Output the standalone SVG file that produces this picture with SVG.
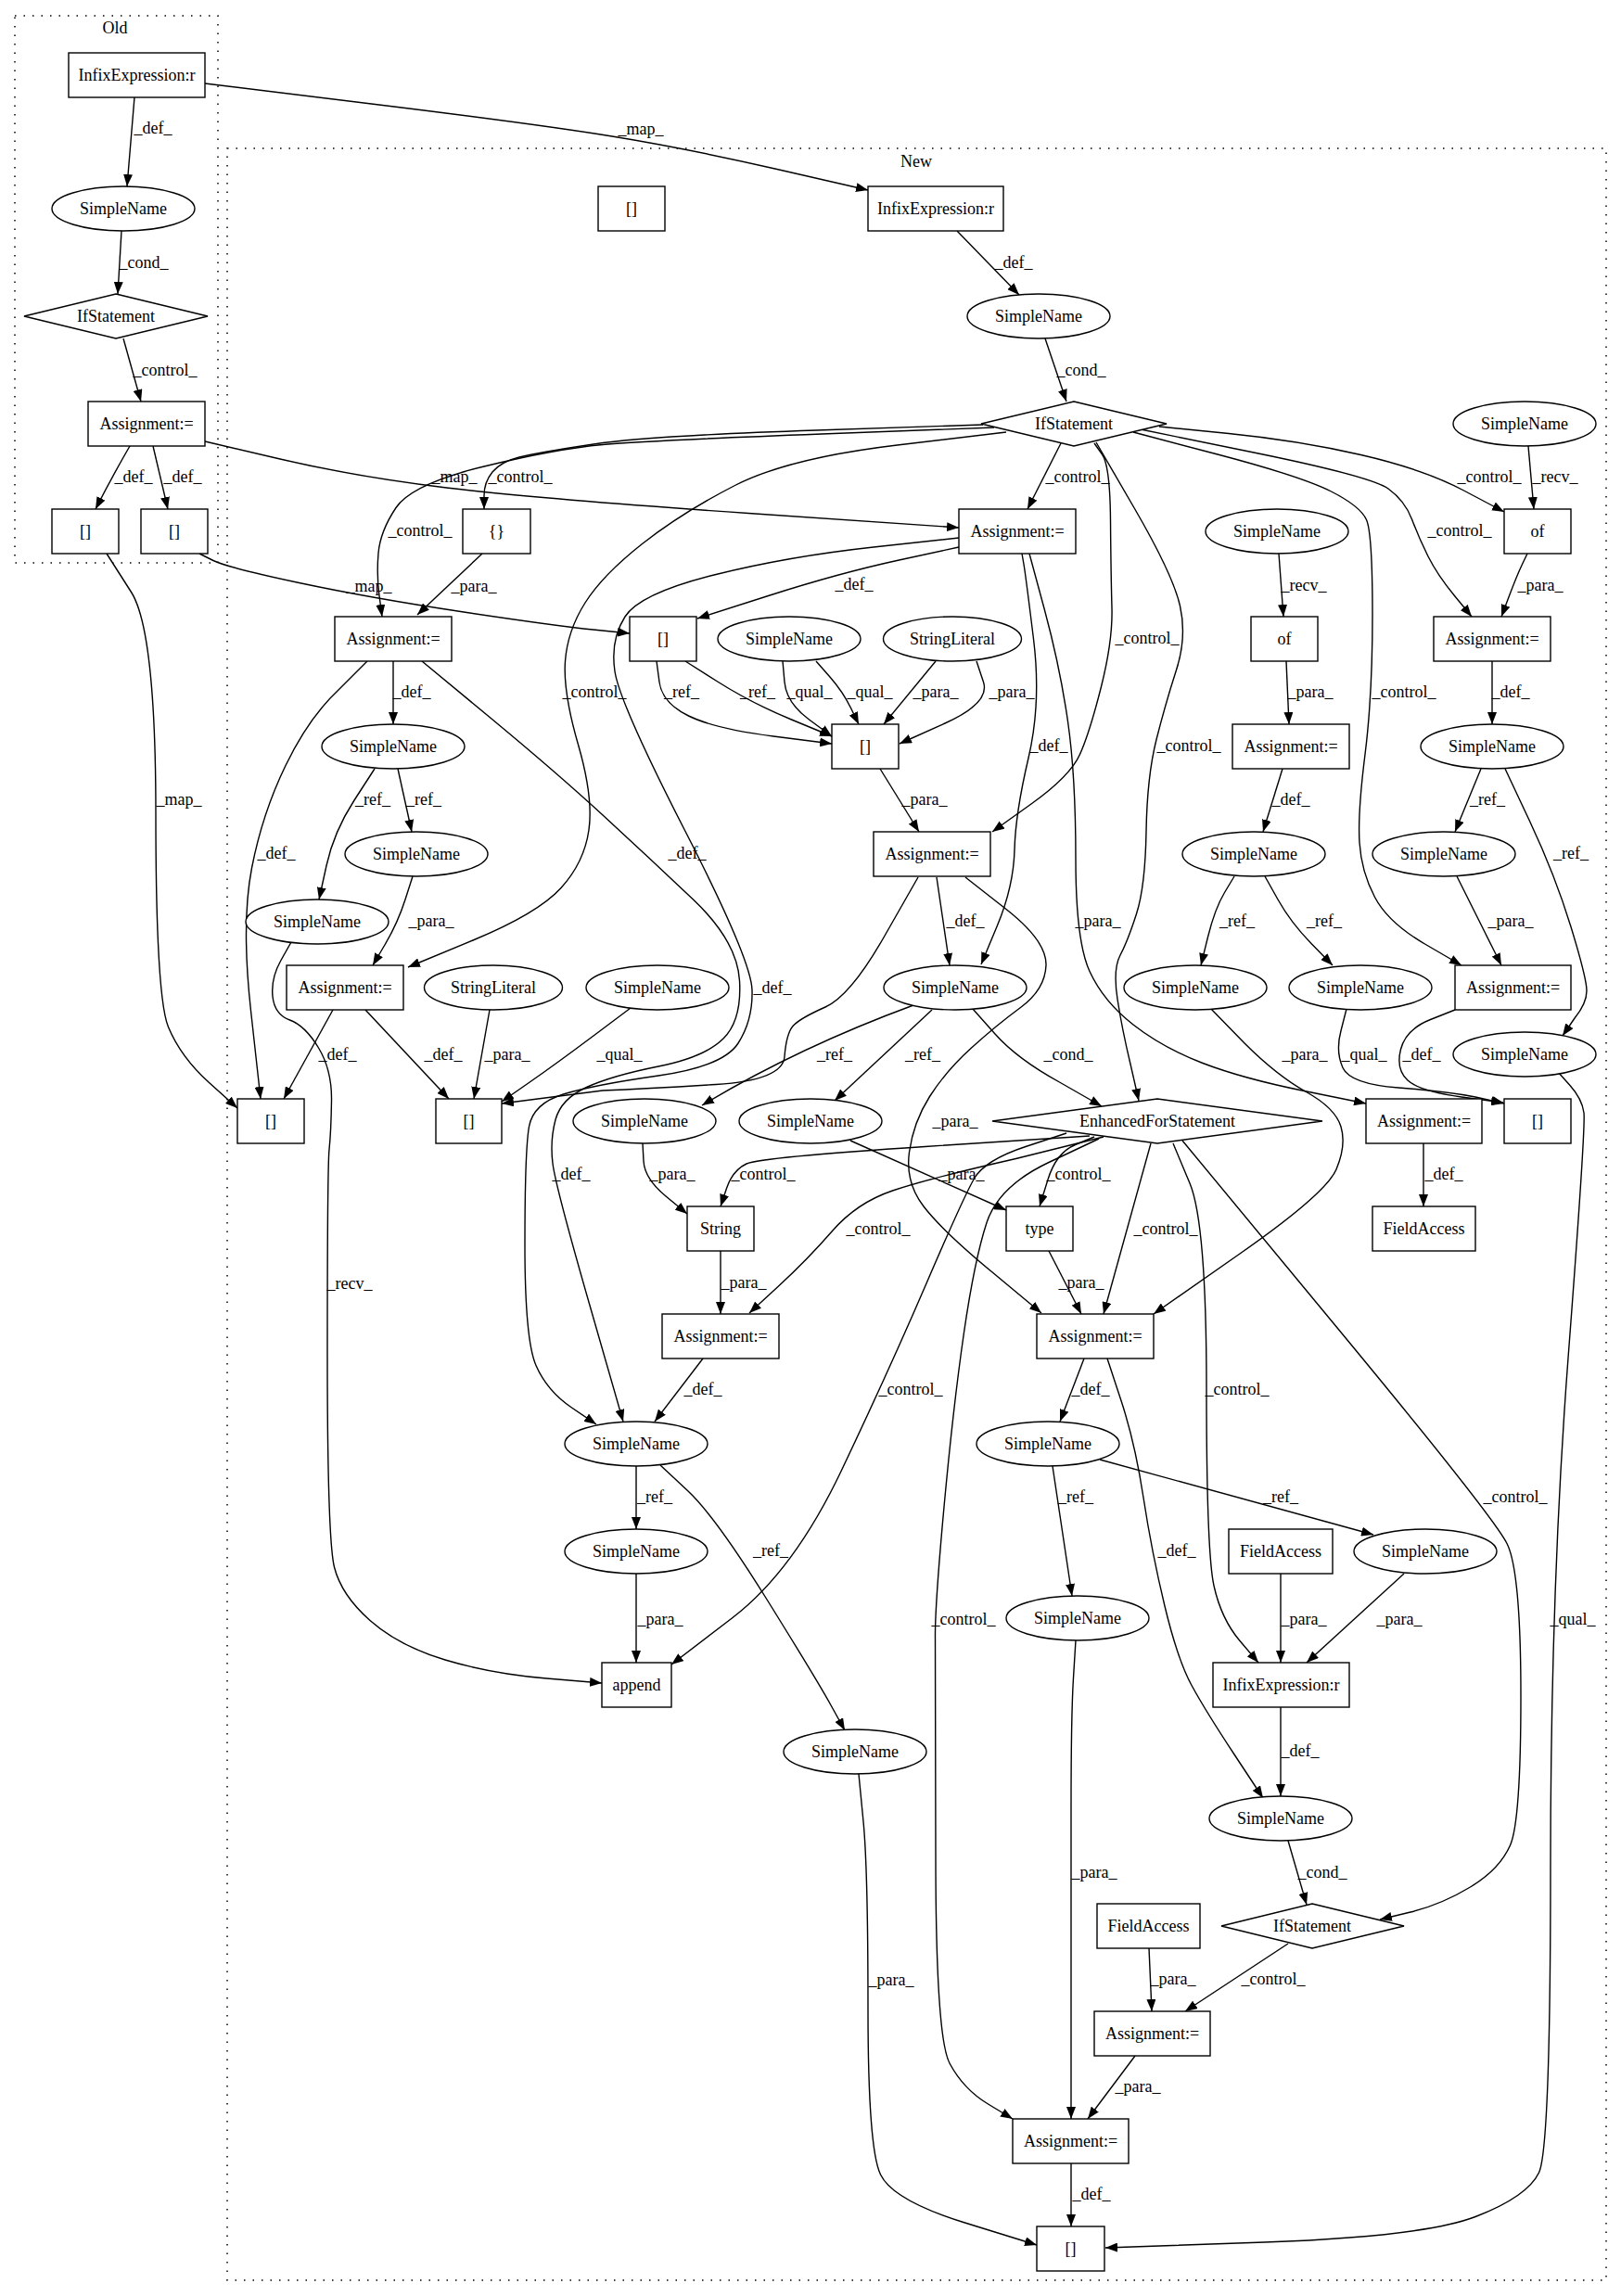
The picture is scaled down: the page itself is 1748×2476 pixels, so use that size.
<svg xmlns="http://www.w3.org/2000/svg" width="1748" height="2476" viewBox="0 0 1748 2476">
<defs>
<marker id="arr" viewBox="0 0 13 10" refX="13" refY="5" markerWidth="13" markerHeight="10" markerUnits="userSpaceOnUse" orient="auto"><path d="M0,0 L13,5 L0,10 z" fill="#000"/></marker>
<style>
text{font-family:"Liberation Serif","Times New Roman",serif;font-size:18px;fill:#000;text-anchor:middle}
.node rect,.node ellipse,.node polygon{fill:#fff;stroke:#000;stroke-width:1.4}
.cluster{fill:none;stroke:#000;stroke-width:1.5;stroke-dasharray:1.5,8}
.edge path{fill:none;stroke:#000;stroke-width:1.4;marker-end:url(#arr)}
</style>
</defs>
<rect width="1748" height="2476" fill="#fff"/>
<g id="clusters">
<rect class="cluster" x="16" y="17" width="219" height="590"/>
<text x="124" y="36">Old</text>
<rect class="cluster" x="245" y="160" width="1487" height="2299"/>
<text x="988" y="180">New</text>
</g>
<g id="connectors">
<g class="edge"><path d="M145,105 L137,201"/><text x="165" y="144">_def_</text></g>
<g class="edge"><path d="M131,249 L127,317"/><text x="155" y="289">_cond_</text></g>
<g class="edge"><path d="M133,365 L152,433"/><text x="178" y="405">_control_</text></g>
<g class="edge"><path d="M140,481 Q122,512 103,549"/><text x="144" y="520">_def_</text></g>
<g class="edge"><path d="M165,481 L181,549"/><text x="197" y="520">_def_</text></g>
<g class="edge"><path d="M221,90 L400.5,112 Q580,134 660,147 Q740,160 838,182.5 L936,205"/><text x="691" y="145">_map_</text></g>
<g class="edge"><path d="M221,476 L302,495 Q383,514 481.5,526 Q580,538 807,553.5 L1034,569"/><text x="490" y="520">_map_</text></g>
<g class="edge"><path d="M115,597 L141.5,638.5 Q168,680 168,877.5 Q168,1075 181.5,1107.5 Q195,1140 225.5,1167.5 L256,1195"/><text x="193" y="868">_map_</text></g>
<g class="edge"><path d="M215,597 L230,604.5 Q245,612 322.5,628.5 Q400,645 500,660 Q600,675 639.5,679 L679,683"/><text x="398" y="638">_map_</text></g>
<g class="edge"><path d="M1032,249 L1099,318"/><text x="1093" y="289">_def_</text></g>
<g class="edge"><path d="M1127,365 L1150,433"/><text x="1166" y="405">_cond_</text></g>
<g class="edge"><path d="M1144,478 L1108,549"/><text x="1162" y="520">_control_</text></g>
<g class="edge"><path d="M1060,458 L880,464 Q700,470 640,479 Q580,488 560,493 Q540,498 531,509 Q522,520 522,534.5 L522,549"/><text x="561" y="520">_control_</text></g>
<g class="edge"><path d="M1072,461 L886,468 Q700,475 650,479.5 Q600,484 522,503 Q444,522 427,547.5 Q410,573 408,596.5 Q406,620 409,642.5 L412,665"/><text x="453" y="578">_control_</text></g>
<g class="edge"><path d="M1085,466 L967.5,480 Q850,494 792.5,523.5 Q735,553 692.5,586.5 Q650,620 631,650 Q612,680 609.5,713 Q607,746 623.5,803 Q640,860 635,895 Q630,930 605,957.5 Q580,985 510,1014 L440,1043"/><text x="641" y="752">_control_</text></g>
<g class="edge"><path d="M1250,460 L1325,467.5 Q1400,475 1467.5,490.5 Q1535,506 1578.5,529 L1622,552"/><text x="1606" y="520">_control_</text></g>
<g class="edge"><path d="M1648,481 L1654,549"/><text x="1677" y="520">_recv_</text></g>
<g class="edge"><path d="M1230,463 L1354.5,488.5 Q1479,514 1497,527 Q1515,540 1522.5,560 Q1530,580 1540,600 Q1550,620 1568.5,642.5 L1587,665"/><text x="1574" y="578">_control_</text></g>
<g class="edge"><path d="M1222,466 L1313,490 Q1404,514 1435.5,530 Q1467,546 1473.5,560.5 Q1480,575 1480,662.5 Q1480,750 1472,813.5 Q1464,877 1466,908.5 Q1468,940 1482.5,967.5 Q1497,995 1536.5,1018 L1576,1041"/><text x="1514" y="752">_control_</text></g>
<g class="edge"><path d="M1182,477 L1223.5,548.5 Q1265,620 1272.5,653.5 Q1280,687 1268.5,722.5 Q1257,758 1247,797.5 Q1237,837 1236,896.5 Q1235,956 1225.5,985.5 Q1216,1015 1208,1030 Q1200,1045 1205,1077.5 Q1210,1110 1219,1147.5 L1228,1187"/><text x="1282" y="810">_control_</text></g>
<g class="edge"><path d="M1180,478 L1188.5,490 Q1197,502 1197.5,561 Q1198,620 1199,655.5 Q1200,691 1187.5,740.5 Q1175,790 1164.5,813.5 Q1154,837 1112,867 L1070,897"/><text x="1237" y="694">_control_</text></g>
<g class="edge"><path d="M520,597 L450,663"/><text x="511" y="638">_para_</text></g>
<g class="edge"><path d="M1034,590 L969.5,604 Q905,618 828.5,642.5 L752,667"/><text x="921" y="636">_def_</text></g>
<g class="edge"><path d="M1034,580 L942,590 Q850,600 770,620 Q690,640 674,665 Q658,690 663,724 Q668,758 739,896.5 Q810,1035 811,1067.5 Q812,1100 796,1125 Q780,1150 710,1160 Q640,1170 607.5,1180 Q575,1190 570.5,1215 Q566,1240 566,1342.5 Q566,1445 578,1472.5 Q590,1500 616.5,1518 L643,1536"/><text x="741" y="926">_def_</text></g>
<g class="edge"><path d="M455,713 L527.5,773 Q600,833 650,879 Q700,925 747.5,970 Q795,1015 797.5,1057.5 Q800,1100 780,1120 Q760,1140 710,1150 Q660,1160 632.5,1172.5 Q605,1185 599,1207.5 Q593,1230 596,1254.5 Q599,1279 635.5,1406 L672,1533"/><text x="616" y="1272">_def_</text></g>
<g class="edge"><path d="M990,946 L953.5,1010 Q917,1074 890,1086 Q863,1098 855.5,1106 Q848,1114 846,1139.5 Q844,1165 772,1169.5 Q700,1174 650,1176 L541,1190"/><text x="833" y="1071">_def_</text></g>
<g class="edge"><path d="M708,713 L711,735.5 Q714,758 742.5,772 Q771,786 834,794 L897,802"/><text x="735" y="752">_ref_</text></g>
<g class="edge"><path d="M739,713 L774.5,735.5 Q810,758 853.5,776 L897,794"/><text x="817" y="752">_ref_</text></g>
<g class="edge"><path d="M844,713 L846,735.5 Q848,758 872.5,776 L897,794"/><text x="873" y="752">_qual_</text></g>
<g class="edge"><path d="M880,713 L894.5,729.5 Q909,746 917.5,763.5 L926,781"/><text x="938" y="752">_qual_</text></g>
<g class="edge"><path d="M1009,713 L953,781"/><text x="1009" y="752">_para_</text></g>
<g class="edge"><path d="M1053,713 L1060.5,735.5 Q1068,758 1019,780 L970,802"/><text x="1091" y="752">_para_</text></g>
<g class="edge"><path d="M949,829 L991,897"/><text x="997" y="868">_para_</text></g>
<g class="edge"><path d="M1102,597 L1104,608.5 Q1106,620 1114.5,689 Q1123,758 1109,817.5 Q1095,877 1094,916.5 Q1093,956 1075.5,998 L1058,1040"/><text x="1131" y="810">_def_</text></g>
<g class="edge"><path d="M1110,597 L1126.5,658 Q1143,719 1151.5,778 Q1160,837 1160,926 Q1160,1015 1175,1047.5 Q1190,1080 1222,1105 Q1254,1130 1297,1146.5 Q1340,1163 1406.5,1176.5 L1473,1190"/><text x="1184" y="999">_para_</text></g>
<g class="edge"><path d="M424,713 L424,781"/><text x="444" y="752">_def_</text></g>
<g class="edge"><path d="M396,713 L364.5,744.5 Q333,774 308,825.5 Q283,877 271.5,936 Q260,995 270.5,1090 L281,1185"/><text x="298" y="926">_def_</text></g>
<g class="edge"><path d="M404,829 L382,863 Q360,897 352,933.5 L344,970"/><text x="402" y="868">_ref_</text></g>
<g class="edge"><path d="M429,829 L444,897"/><text x="457" y="868">_ref_</text></g>
<g class="edge"><path d="M445,945 L437,970 Q429,995 415.5,1018 L402,1041"/><text x="465" y="999">_para_</text></g>
<g class="edge"><path d="M359,1089 L306,1185"/><text x="364" y="1143">_def_</text></g>
<g class="edge"><path d="M394,1089 L484,1185"/><text x="478" y="1143">_def_</text></g>
<g class="edge"><path d="M528,1089 L511,1185"/><text x="547" y="1143">_para_</text></g>
<g class="edge"><path d="M680,1087 L640,1117 Q600,1147 570.5,1167.5 L541,1188"/><text x="668" y="1143">_qual_</text></g>
<g class="edge"><path d="M314,1016 L303,1035.5 Q292,1055 294,1074.5 Q296,1094 312.5,1100 Q329,1106 343.5,1130 Q358,1154 357.5,1187 Q357,1220 355,1239.5 Q353,1259 353,1459.5 Q353,1660 360.5,1690 Q368,1720 399,1747.5 Q430,1775 480,1790 Q530,1805 589.5,1810 L649,1815"/><text x="377" y="1390">_recv_</text></g>
<g class="edge"><path d="M1010,946 L1024,1041"/><text x="1041" y="999">_def_</text></g>
<g class="edge"><path d="M1041,946 L1085,980.5 Q1129,1015 1128,1041 Q1127,1067 1100.5,1086.5 Q1074,1106 1047,1130.5 Q1020,1155 1002.5,1182.5 Q985,1210 980.5,1242.5 Q976,1275 996,1301 Q1016,1327 1069.5,1371.5 L1123,1416"/><text x="1030" y="1215">_para_</text></g>
<g class="edge"><path d="M985,1084 Q860,1130 757,1192"/><text x="900" y="1143">_ref_</text></g>
<g class="edge"><path d="M1005,1089 L900,1187"/><text x="995" y="1143">_ref_</text></g>
<g class="edge"><path d="M1049,1088 L1073,1115 Q1097,1142 1142.5,1167 L1188,1193"/><text x="1152" y="1143">_cond_</text></g>
<g class="edge"><path d="M1379,597 L1384,665"/><text x="1406" y="637">_recv_</text></g>
<g class="edge"><path d="M1647,597 L1641.5,608.5 Q1636,620 1627.5,642.5 L1619,665"/><text x="1661" y="637">_para_</text></g>
<g class="edge"><path d="M1387,713 L1390,781"/><text x="1413" y="752">_para_</text></g>
<g class="edge"><path d="M1609,713 L1609,781"/><text x="1629" y="752">_def_</text></g>
<g class="edge"><path d="M1383,829 L1362,897"/><text x="1392" y="868">_def_</text></g>
<g class="edge"><path d="M1597,829 L1569,897"/><text x="1604" y="868">_ref_</text></g>
<g class="edge"><path d="M1623,829 L1650,886.5 Q1677,944 1694,999.5 Q1711,1055 1711,1068.5 Q1711,1082 1698,1098 L1685,1117"/><text x="1694" y="926">_ref_</text></g>
<g class="edge"><path d="M1331,945 L1320.5,962.5 Q1310,980 1302.5,1010.5 L1295,1041"/><text x="1334" y="999">_ref_</text></g>
<g class="edge"><path d="M1364,945 L1378,970 Q1392,995 1414.5,1018 L1437,1041"/><text x="1428" y="999">_ref_</text></g>
<g class="edge"><path d="M1571,945 L1619,1041"/><text x="1629" y="999">_para_</text></g>
<g class="edge"><path d="M1306,1088 L1341.5,1124.5 Q1377,1160 1408.5,1177.5 Q1440,1195 1446,1215 Q1452,1235 1441,1261 Q1430,1287 1337,1352 L1244,1417"/><text x="1407" y="1143">_para_</text></g>
<g class="edge"><path d="M1452,1088 L1446,1111.5 Q1440,1134 1448,1151.5 Q1456,1169 1508,1173 Q1560,1177 1591,1183 L1622,1190"/><text x="1471" y="1143">_qual_</text></g>
<g class="edge"><path d="M1569,1089 L1542.5,1099.5 Q1516,1110 1510.5,1131.5 Q1505,1153 1518,1165 Q1531,1177 1576,1183 L1621,1189"/><text x="1533" y="1143">_def_</text></g>
<g class="edge"><path d="M1535,1233 L1535,1301"/><text x="1557" y="1272">_def_</text></g>
<g class="edge"><path d="M1680,1156 L1693,1170.5 Q1706,1185 1708,1200 Q1710,1215 1691,1464.5 Q1672,1714 1672,2015.5 Q1672,2317 1659.5,2343 Q1647,2369 1591,2390.5 Q1535,2412 1363.5,2418 L1192,2424"/><text x="1696" y="1752">_qual_</text></g>
<g class="edge"><path d="M1175,1225 L997.5,1236.5 Q820,1248 805,1255 Q790,1262 783.5,1281.5 L777,1301"/><text x="823" y="1272">_control_</text></g>
<g class="edge"><path d="M1190,1226 L1095.5,1249.5 Q1001,1271 962.5,1284 Q924,1297 897.5,1327.5 Q871,1358 839.5,1387 L808,1416"/><text x="947" y="1331">_control_</text></g>
<g class="edge"><path d="M1150,1222 L1106,1236.5 Q1062,1251 1050.5,1271 Q1039,1291 999,1384 Q959,1477 907.5,1585.5 Q856,1694 790,1744.5 L724,1795"/><text x="982" y="1504">_control_</text></g>
<g class="edge"><path d="M1180,1226 L1159.5,1234.5 Q1139,1243 1130,1272 L1121,1301"/><text x="1163" y="1272">_control_</text></g>
<g class="edge"><path d="M1241,1233 L1190,1417"/><text x="1257" y="1331">_control_</text></g>
<g class="edge"><path d="M1185,1228 L1131,1253.5 Q1077,1279 1064,1318.5 Q1051,1358 1039.5,1437 Q1028,1516 1018,1625 Q1008,1734 1008.5,1767 Q1009,1800 1009,1998.5 Q1009,2197 1024,2225 Q1039,2253 1065.5,2269 L1092,2285"/><text x="1039" y="1752">_control_</text></g>
<g class="edge"><path d="M1265,1233 L1283,1276 Q1301,1319 1301,1496.5 Q1301,1674 1309,1710 Q1317,1746 1337,1769.5 L1357,1793"/><text x="1334" y="1504">_control_</text></g>
<g class="edge"><path d="M1275,1230 L1442.5,1432.5 Q1610,1635 1625,1664.5 Q1640,1694 1640,1829 Q1640,1964 1628.5,1990 Q1617,2016 1585.5,2035 Q1554,2054 1521,2062 L1488,2070"/><text x="1634" y="1620">_control_</text></g>
<g class="edge"><path d="M693,1233 L694,1252 Q695,1271 718,1290 L741,1309"/><text x="725" y="1272">_para_</text></g>
<g class="edge"><path d="M917,1230 L1085,1305"/><text x="1037" y="1272">_para_</text></g>
<g class="edge"><path d="M777,1349 L777,1417"/><text x="802" y="1389">_para_</text></g>
<g class="edge"><path d="M1131,1349 L1166,1417"/><text x="1166" y="1389">_para_</text></g>
<g class="edge"><path d="M758,1465 L706,1533"/><text x="758" y="1504">_def_</text></g>
<g class="edge"><path d="M1169,1465 L1143,1533"/><text x="1176" y="1504">_def_</text></g>
<g class="edge"><path d="M1194,1465 L1209,1510.5 Q1224,1556 1233,1615 Q1242,1674 1256,1732 Q1270,1790 1285,1817.5 Q1300,1845 1331,1892 L1362,1939"/><text x="1269" y="1678">_def_</text></g>
<g class="edge"><path d="M686,1581 L686,1649"/><text x="706" y="1620">_ref_</text></g>
<g class="edge"><path d="M712,1580 L741.5,1607.5 Q771,1635 825.5,1722.5 Q880,1810 895.5,1838 L911,1866"/><text x="831" y="1678">_ref_</text></g>
<g class="edge"><path d="M686,1697 L686,1793"/><text x="712" y="1752">_para_</text></g>
<g class="edge"><path d="M1135,1581 L1156,1721"/><text x="1160" y="1620">_ref_</text></g>
<g class="edge"><path d="M1186,1574 L1481,1655"/><text x="1381" y="1620">_ref_</text></g>
<g class="edge"><path d="M1381,1697 L1381,1793"/><text x="1406" y="1752">_para_</text></g>
<g class="edge"><path d="M1514,1697 L1409,1793"/><text x="1509" y="1752">_para_</text></g>
<g class="edge"><path d="M1381,1841 L1381,1937"/><text x="1402" y="1894">_def_</text></g>
<g class="edge"><path d="M1389,1985 L1409,2054"/><text x="1426" y="2025">_cond_</text></g>
<g class="edge"><path d="M1389,2096 L1278,2169"/><text x="1373" y="2140">_control_</text></g>
<g class="edge"><path d="M1239,2101 L1242,2169"/><text x="1265" y="2140">_para_</text></g>
<g class="edge"><path d="M1224,2217 L1173,2285"/><text x="1227" y="2256">_para_</text></g>
<g class="edge"><path d="M1160,1769 L1157.5,1809.5 Q1155,1850 1155,1950 L1155,2285"/><text x="1180" y="2025">_para_</text></g>
<g class="edge"><path d="M1155,2333 L1155,2401"/><text x="1177" y="2372">_def_</text></g>
<g class="edge"><path d="M926,1913 L931,1964.5 Q936,2016 936,2166.5 Q936,2317 949.5,2345 Q963,2373 1040.5,2397 L1118,2421"/><text x="961" y="2141">_para_</text></g>
</g>
<g id="nodes">
<g id="o_infix" class="node"><rect x="74" y="57" width="147" height="48"/><text x="147.5" y="87">InfixExpression:r</text></g>
<g id="o_sn" class="node"><ellipse cx="133" cy="225" rx="77" ry="24"/><text x="133" y="231">SimpleName</text></g>
<g id="o_if" class="node"><polygon points="125,317 224,341 125,365 26,341"/><text x="125" y="347">IfStatement</text></g>
<g id="o_assign" class="node"><rect x="95" y="433" width="126" height="48"/><text x="158" y="463">Assignment:=</text></g>
<g id="o_br1" class="node"><rect x="56" y="549" width="72" height="48"/><text x="92" y="579">[]</text></g>
<g id="o_br2" class="node"><rect x="152" y="549" width="72" height="48"/><text x="188" y="579">[]</text></g>
<g id="n_br0" class="node"><rect x="645" y="201" width="72" height="48"/><text x="681" y="231">[]</text></g>
<g id="n_infix1" class="node"><rect x="936" y="201" width="146" height="48"/><text x="1009" y="231">InfixExpression:r</text></g>
<g id="n_sn2" class="node"><ellipse cx="1120" cy="341" rx="77" ry="24"/><text x="1120" y="347">SimpleName</text></g>
<g id="n_if3" class="node"><polygon points="1158,433 1258,457 1158,481 1058,457"/><text x="1158" y="463">IfStatement</text></g>
<g id="n_sn4" class="node"><ellipse cx="1644" cy="457" rx="77" ry="24"/><text x="1644" y="463">SimpleName</text></g>
<g id="n_brace5" class="node"><rect x="499" y="549" width="73" height="48"/><text x="535.5" y="579">{}</text></g>
<g id="n_assign6" class="node"><rect x="1034" y="549" width="126" height="48"/><text x="1097" y="579">Assignment:=</text></g>
<g id="n_sn7" class="node"><ellipse cx="1377" cy="573" rx="77" ry="24"/><text x="1377" y="579">SimpleName</text></g>
<g id="n_of8" class="node"><rect x="1622" y="549" width="72" height="48"/><text x="1658" y="579">of</text></g>
<g id="n_assign9" class="node"><rect x="361" y="665" width="126" height="48"/><text x="424" y="695">Assignment:=</text></g>
<g id="n_br10" class="node"><rect x="679" y="665" width="72" height="48"/><text x="715" y="695">[]</text></g>
<g id="n_sn11" class="node"><ellipse cx="851" cy="689" rx="77" ry="24"/><text x="851" y="695">SimpleName</text></g>
<g id="n_str12" class="node"><ellipse cx="1027" cy="689" rx="74.5" ry="24"/><text x="1027" y="695">StringLiteral</text></g>
<g id="n_of13" class="node"><rect x="1349" y="665" width="72" height="48"/><text x="1385" y="695">of</text></g>
<g id="n_assign14" class="node"><rect x="1546" y="665" width="126" height="48"/><text x="1609" y="695">Assignment:=</text></g>
<g id="n_sn15" class="node"><ellipse cx="424" cy="805" rx="77" ry="24"/><text x="424" y="811">SimpleName</text></g>
<g id="n_br16" class="node"><rect x="897" y="781" width="72" height="48"/><text x="933" y="811">[]</text></g>
<g id="n_assign17" class="node"><rect x="1329" y="781" width="126" height="48"/><text x="1392" y="811">Assignment:=</text></g>
<g id="n_sn18" class="node"><ellipse cx="1609" cy="805" rx="77" ry="24"/><text x="1609" y="811">SimpleName</text></g>
<g id="n_sn19" class="node"><ellipse cx="449" cy="921" rx="77" ry="24"/><text x="449" y="927">SimpleName</text></g>
<g id="n_assign20" class="node"><rect x="942" y="897" width="126" height="48"/><text x="1005" y="927">Assignment:=</text></g>
<g id="n_sn21" class="node"><ellipse cx="1352" cy="921" rx="77" ry="24"/><text x="1352" y="927">SimpleName</text></g>
<g id="n_sn22" class="node"><ellipse cx="1557" cy="921" rx="77" ry="24"/><text x="1557" y="927">SimpleName</text></g>
<g id="n_sn23" class="node"><ellipse cx="342" cy="994" rx="77" ry="24"/><text x="342" y="1000">SimpleName</text></g>
<g id="n_assign24" class="node"><rect x="309" y="1041" width="126" height="48"/><text x="372" y="1071">Assignment:=</text></g>
<g id="n_str25" class="node"><ellipse cx="532" cy="1065" rx="74.5" ry="24"/><text x="532" y="1071">StringLiteral</text></g>
<g id="n_sn26" class="node"><ellipse cx="709" cy="1065" rx="77" ry="24"/><text x="709" y="1071">SimpleName</text></g>
<g id="n_sn27" class="node"><ellipse cx="1030" cy="1065" rx="77" ry="24"/><text x="1030" y="1071">SimpleName</text></g>
<g id="n_sn28" class="node"><ellipse cx="1289" cy="1065" rx="77" ry="24"/><text x="1289" y="1071">SimpleName</text></g>
<g id="n_sn29" class="node"><ellipse cx="1467" cy="1065" rx="77" ry="24"/><text x="1467" y="1071">SimpleName</text></g>
<g id="n_assign30" class="node"><rect x="1569" y="1041" width="125" height="48"/><text x="1631.5" y="1071">Assignment:=</text></g>
<g id="n_sn31" class="node"><ellipse cx="1644" cy="1137" rx="77" ry="24"/><text x="1644" y="1143">SimpleName</text></g>
<g id="n_br32" class="node"><rect x="256" y="1185" width="72" height="48"/><text x="292" y="1215">[]</text></g>
<g id="n_br33" class="node"><rect x="470" y="1185" width="71" height="48"/><text x="505.5" y="1215">[]</text></g>
<g id="n_sn34" class="node"><ellipse cx="695" cy="1209" rx="77" ry="24"/><text x="695" y="1215">SimpleName</text></g>
<g id="n_sn35" class="node"><ellipse cx="874" cy="1209" rx="77" ry="24"/><text x="874" y="1215">SimpleName</text></g>
<g id="n_for36" class="node"><polygon points="1248,1185 1426,1209 1248,1233 1070,1209"/><text x="1248" y="1215">EnhancedForStatement</text></g>
<g id="n_assign37" class="node"><rect x="1473" y="1185" width="125" height="48"/><text x="1535.5" y="1215">Assignment:=</text></g>
<g id="n_br38" class="node"><rect x="1622" y="1185" width="72" height="48"/><text x="1658" y="1215">[]</text></g>
<g id="n_string39" class="node"><rect x="741" y="1301" width="72" height="48"/><text x="777" y="1331">String</text></g>
<g id="n_type40" class="node"><rect x="1085" y="1301" width="72" height="48"/><text x="1121" y="1331">type</text></g>
<g id="n_fa41" class="node"><rect x="1480" y="1301" width="111" height="48"/><text x="1535.5" y="1331">FieldAccess</text></g>
<g id="n_assign42" class="node"><rect x="714" y="1417" width="126" height="48"/><text x="777" y="1447">Assignment:=</text></g>
<g id="n_assign43" class="node"><rect x="1118" y="1417" width="126" height="48"/><text x="1181" y="1447">Assignment:=</text></g>
<g id="n_sn44" class="node"><ellipse cx="686" cy="1557" rx="77" ry="24"/><text x="686" y="1563">SimpleName</text></g>
<g id="n_sn45" class="node"><ellipse cx="1130" cy="1557" rx="77" ry="24"/><text x="1130" y="1563">SimpleName</text></g>
<g id="n_sn46" class="node"><ellipse cx="686" cy="1673" rx="77" ry="24"/><text x="686" y="1679">SimpleName</text></g>
<g id="n_fa47" class="node"><rect x="1325" y="1649" width="112" height="48"/><text x="1381" y="1679">FieldAccess</text></g>
<g id="n_sn48" class="node"><ellipse cx="1537" cy="1673" rx="77" ry="24"/><text x="1537" y="1679">SimpleName</text></g>
<g id="n_sn49" class="node"><ellipse cx="1162" cy="1745" rx="77" ry="24"/><text x="1162" y="1751">SimpleName</text></g>
<g id="n_infix50" class="node"><rect x="1308" y="1793" width="147" height="48"/><text x="1381.5" y="1823">InfixExpression:r</text></g>
<g id="n_append51" class="node"><rect x="649" y="1793" width="75" height="48"/><text x="686.5" y="1823">append</text></g>
<g id="n_sn52" class="node"><ellipse cx="922" cy="1889" rx="77" ry="24"/><text x="922" y="1895">SimpleName</text></g>
<g id="n_sn53" class="node"><ellipse cx="1381" cy="1961" rx="77" ry="24"/><text x="1381" y="1967">SimpleName</text></g>
<g id="n_fa54" class="node"><rect x="1183" y="2053" width="111" height="48"/><text x="1238.5" y="2083">FieldAccess</text></g>
<g id="n_if55" class="node"><polygon points="1415,2053 1514,2077 1415,2101 1317,2077"/><text x="1415" y="2083">IfStatement</text></g>
<g id="n_assign56" class="node"><rect x="1180" y="2169" width="125" height="48"/><text x="1242.5" y="2199">Assignment:=</text></g>
<g id="n_assign57" class="node"><rect x="1092" y="2285" width="125" height="48"/><text x="1154.5" y="2315">Assignment:=</text></g>
<g id="n_br58" class="node"><rect x="1118" y="2401" width="73" height="48"/><text x="1154.5" y="2431">[]</text></g>
</g>
</svg>
